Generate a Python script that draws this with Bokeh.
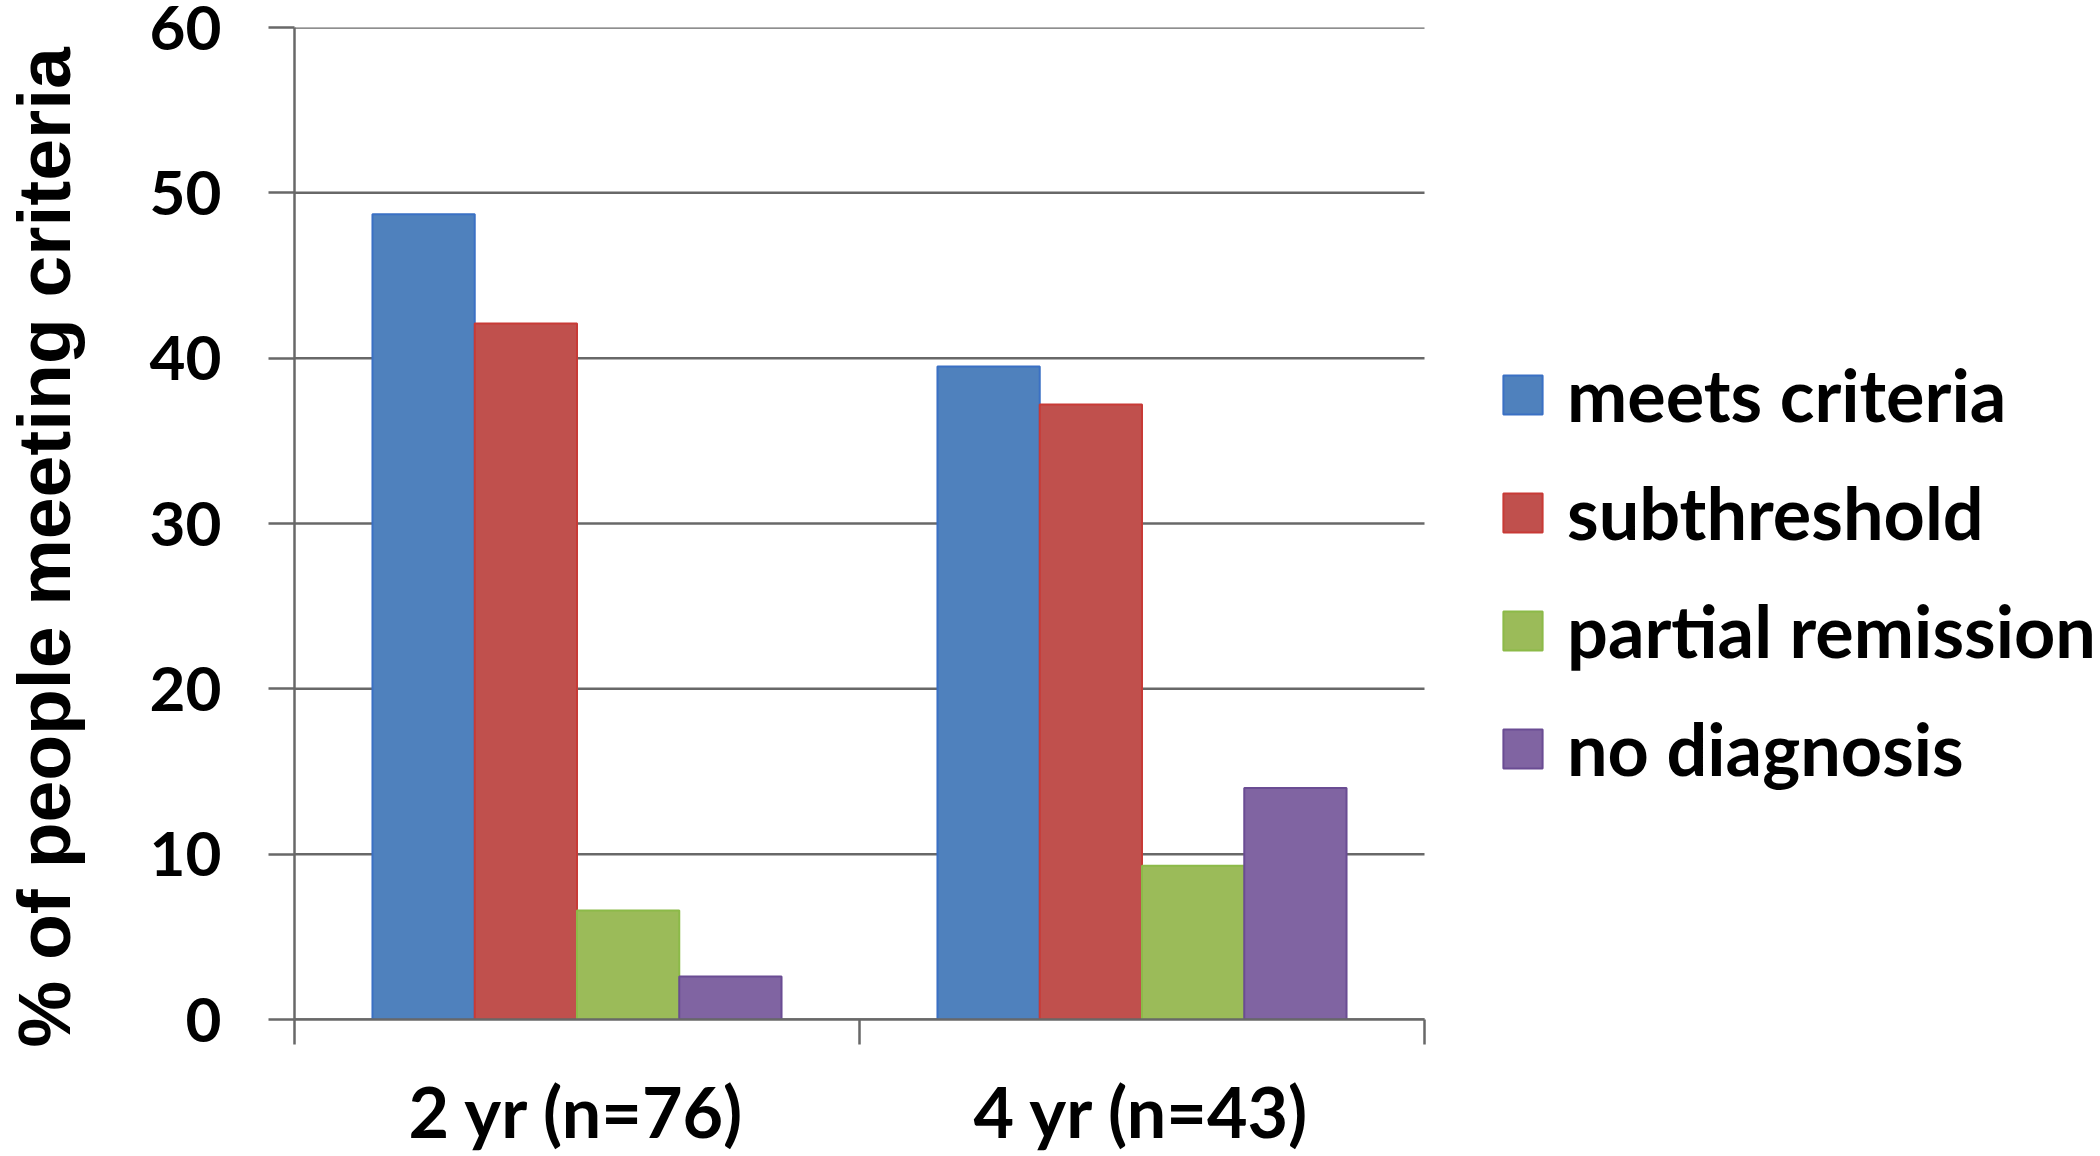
from bokeh.plotting import figure
from bokeh.models import Range1d, FixedTicker, Legend, LegendItem, ColumnDataSource, Title
from bokeh.embed import file_html
from bokeh.resources import INLINE

# ---- data ----
categories = ["2 yr (n=76)", "4 yr (n=43)"]
series_names = ["meets criteria", "subthreshold", "partial remission", "no diagnosis"]
meets_criteria = [48.7, 39.5]
subthreshold = [42.1, 37.2]
partial_remission = [6.6, 9.3]
no_diagnosis = [2.6, 14.0]
y_ticks = [0, 10, 20, 30, 40, 50, 60]
y_title = "% of people meeting criteria"

series_values = [meets_criteria, subthreshold, partial_remission, no_diagnosis]

# ---- style / layout ----
fills = ["#4F81BD", "#C0504D", "#9BBB59", "#8064A2"]
edges = ["#3A70C4", "#C83A36", "#8CBA48", "#6A4C93"]
GRAY = "#686868"
BAR_W = 0.181
PLOT_W, PLOT_H = 2100, 1156
LEFT, TOP, BOTTOM = 294, 27, 137
CAT_PX = 1130  # pixel width of the category area

ncat = len(categories)
x_end = ncat * (PLOT_W - LEFT) / CAT_PX

p = figure(width=PLOT_W, height=PLOT_H, output_backend="svg", toolbar_location=None,
           x_range=Range1d(0, x_end), y_range=Range1d(0, 60),
           min_border_left=LEFT, min_border_right=0, min_border_top=TOP,
           min_border_bottom=BOTTOM)
p.outline_line_color = None
p.background_fill_color = "white"
p.border_fill_color = "white"

# grid lines limited to the category area
p.xgrid.visible = False
p.ygrid.visible = False
p.segment(x0=[0] * len(y_ticks), x1=[ncat] * len(y_ticks), y0=y_ticks, y1=y_ticks,
          line_color=GRAY, line_width=2.5, level="underlay")

# y axis
ya = p.yaxis[0]
ya.ticker = FixedTicker(ticks=y_ticks, minor_ticks=[])
ya.axis_line_color = GRAY
ya.axis_line_width = 2.5
ya.major_tick_line_color = GRAY
ya.major_tick_line_width = 2.5
ya.major_tick_out = 26
ya.major_tick_in = 0
ya.minor_tick_line_color = None
ya.major_label_standoff = 47
ya.major_label_text_font = "Lato"
ya.major_label_text_font_style = "bold"
ya.major_label_text_font_size = "62px"
ya.major_label_text_color = "black"
# blank spacer label: pushes the title out to the left edge
ya.axis_label = " "
ya.axis_label_text_font_size = "10px"
ya.axis_label_standoff = 45

# y title (vertical text on the left)
yt = Title(text=y_title, align="left", offset=-28, vertical_align="top",
           standoff=0, text_font="Liberation Sans", text_font_style="bold",
           text_font_size="75px", text_color="black")
p.add_layout(yt, "left")

# x axis: labels at category centres, boundary ticks as minor ticks
centres = [i + 0.5 for i in range(ncat)]
bounds = [float(i) for i in range(ncat + 1)]
xa = p.xaxis[0]
xa.bounds = (0, ncat)
xa.ticker = FixedTicker(ticks=centres, minor_ticks=bounds)
xa.major_label_overrides = {c: lab for c, lab in zip(centres, categories)}
xa.axis_line_color = GRAY
xa.axis_line_width = 2.5
xa.major_tick_line_color = None
xa.major_tick_out = 0
xa.major_tick_in = 0
xa.minor_tick_line_color = GRAY
xa.minor_tick_line_width = 2.5
xa.minor_tick_out = 25
xa.minor_tick_in = 0
xa.major_label_standoff = 24
xa.major_label_text_font = "Lato"
xa.major_label_text_font_style = "bold"
xa.major_label_text_font_size = "70px"
xa.major_label_text_color = "black"

# bars
items = []
n = len(series_values)
for j, (name, vals) in enumerate(zip(series_names, series_values)):
    xs = [i + 0.5 + (j - (n - 1) / 2) * BAR_W for i in range(ncat)]
    src = ColumnDataSource(dict(x=xs, top=vals))
    r = p.vbar(x="x", top="top", bottom=0, width=BAR_W, source=src,
               fill_color=fills[j], line_color=edges[j], line_width=2)
    items.append(LegendItem(label=name, renderers=[r]))

legend = Legend(items=items, location=(1204, 226), orientation="vertical",
                glyph_width=49, glyph_height=49, label_standoff=20,
                label_height=90, spacing=28,
                padding=0, margin=0, border_line_color=None,
                background_fill_alpha=0,
                label_text_font="Lato", label_text_font_style="bold",
                label_text_font_size="72px", label_text_color="black")
p.add_layout(legend)

open("out.html", "w").write(file_html(p, INLINE))
